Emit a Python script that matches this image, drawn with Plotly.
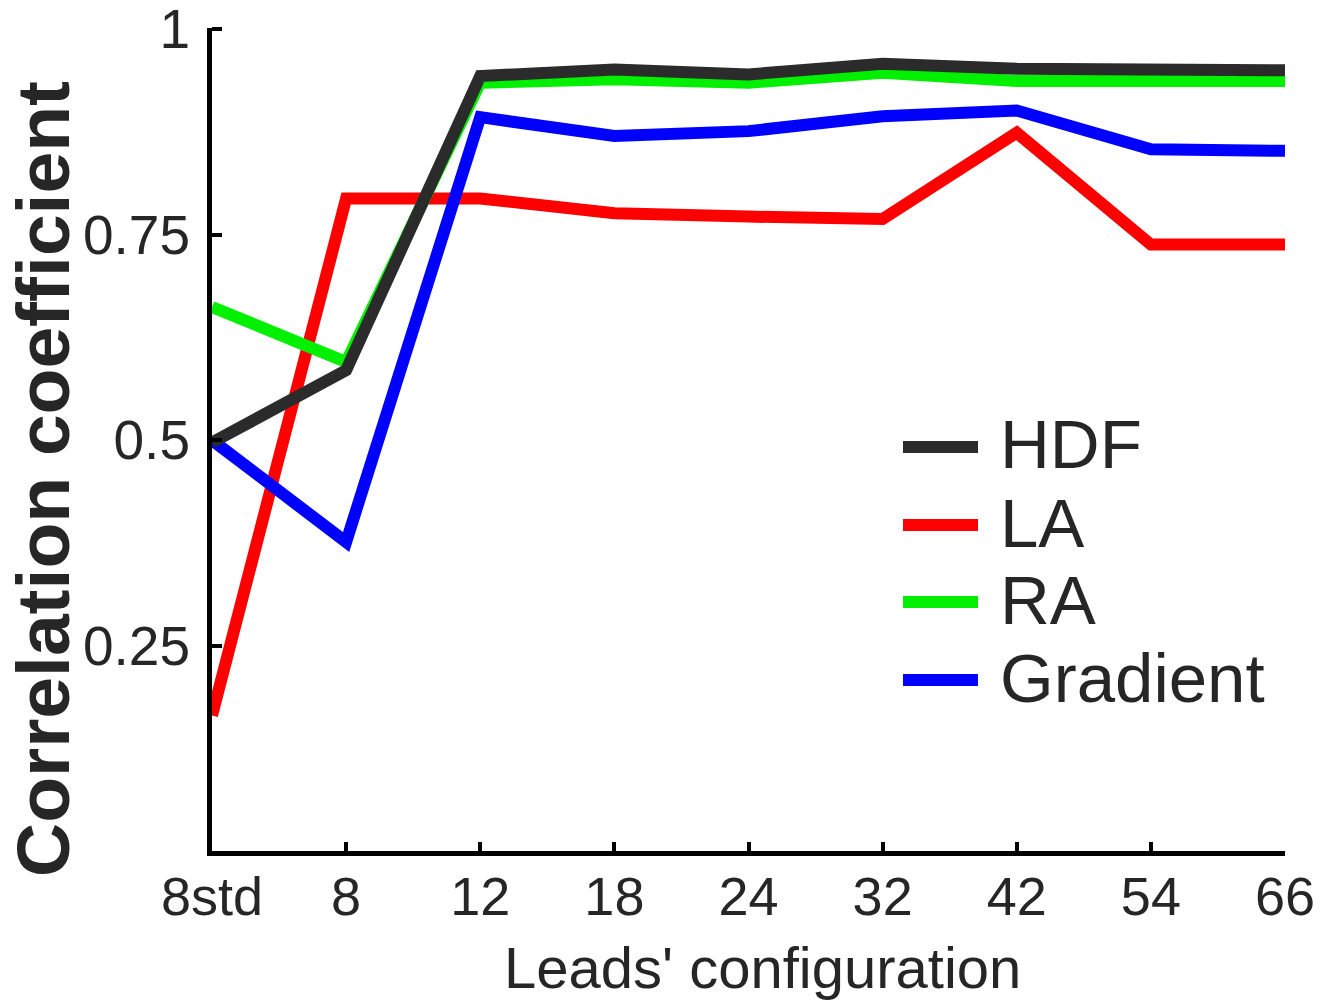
import plotly.graph_objects as go

categories = ["8std", "8", "12", "18", "24", "32", "42", "54", "66"]
hdf = [0.497, 0.585, 0.943, 0.951, 0.945, 0.958, 0.952, 0.951, 0.950]
la = [0.165, 0.794, 0.794, 0.776, 0.772, 0.769, 0.874, 0.738, 0.738]
ra = [0.662, 0.595, 0.935, 0.939, 0.935, 0.947, 0.937, 0.937, 0.937]
gradient = [0.500, 0.376, 0.893, 0.870, 0.876, 0.894, 0.901, 0.854, 0.852]
ytick_vals = [0.25, 0.5, 0.75, 1.0]
ytick_text = ["0.25", "0.5", "0.75", "1"]

series_names = ["HDF", "LA", "RA", "Gradient"]
series_values = [hdf, la, ra, gradient]
series_colors = ["#2b2b2b", "#ff0000", "#00f000", "#0000ff"]
draw_order = ["LA", "RA", "Gradient", "HDF"]

FONT = "Liberation Sans, Arial, Helvetica, sans-serif"
TXT = "#262626"

fig = go.Figure()
for name in draw_order:
    i = series_names.index(name)
    fig.add_trace(go.Scatter(
        x=categories, y=series_values[i], mode="lines", name=name,
        line=dict(color=series_colors[i], width=12),
        showlegend=False, cliponaxis=False,
    ))

fig.update_layout(
    width=1341, height=1002,
    margin=dict(l=212, r=56, t=28, b=151, autoexpand=False),
    paper_bgcolor="white", plot_bgcolor="white",
    font=dict(family=FONT, color=TXT),
    showlegend=False,
)
fig.update_xaxes(
    type="category", range=[0, 8],
    showline=True, linecolor="black", linewidth=5,
    ticks="inside", ticklen=9, tickwidth=4, tickcolor="black",
    showgrid=False, zeroline=False,
    tickfont=dict(size=54, family=FONT, color=TXT),
    ticklabelstandoff=-6, ticklabeloverflow="allow",
    automargin=False,
)
fig.update_yaxes(
    range=[0, 1.0015],
    tickvals=ytick_vals, ticktext=ytick_text,
    showline=True, linecolor="black", linewidth=5,
    ticks="inside", ticklen=10, tickwidth=4, tickcolor="black",
    showgrid=False, zeroline=False,
    tickfont=dict(size=55, family=FONT, color=TXT),
    ticklabelstandoff=6, ticklabeloverflow="allow",
    automargin=False,
)

# x-axis title
fig.add_annotation(
    text="Leads' configuration",
    xref="paper", yref="paper", x=(762 - 212) / 1073, y=(851 - 967) / 823,
    xanchor="center", yanchor="middle", showarrow=False,
    font=dict(size=58, family=FONT, color=TXT),
)

# y-axis title
fig.add_annotation(
    text="<b>Correlation coefficient</b>", textangle=-90,
    xref="paper", yref="paper", x=(43 - 212) / 1073, y=(851 - 479) / 823,
    xanchor="center", yanchor="middle", showarrow=False,
    font=dict(size=75, family=FONT, color=TXT),
)

# legend (manual, to match sample length and row spacing)
leg_y_px = [447, 525, 602, 680]
for i, name in enumerate(series_names):
    yp = (851 - leg_y_px[i]) / 823
    fig.add_shape(
        type="line", xref="paper", yref="paper",
        x0=(903 - 212) / 1073, x1=(978 - 212) / 1073, y0=yp, y1=yp,
        line=dict(color=series_colors[i], width=12),
    )
    fig.add_annotation(
        text=name, xref="paper", yref="paper",
        x=(998 - 212) / 1073, y=yp + 2 / 823,
        xanchor="left", yanchor="middle", showarrow=False,
        font=dict(size=69, family=FONT, color=TXT),
    )

fig.write_html(
    "out.html",
    config={"displayModeBar": False},
    post_script="document.body.style.margin='0';document.body.style.overflow='hidden';",
)
